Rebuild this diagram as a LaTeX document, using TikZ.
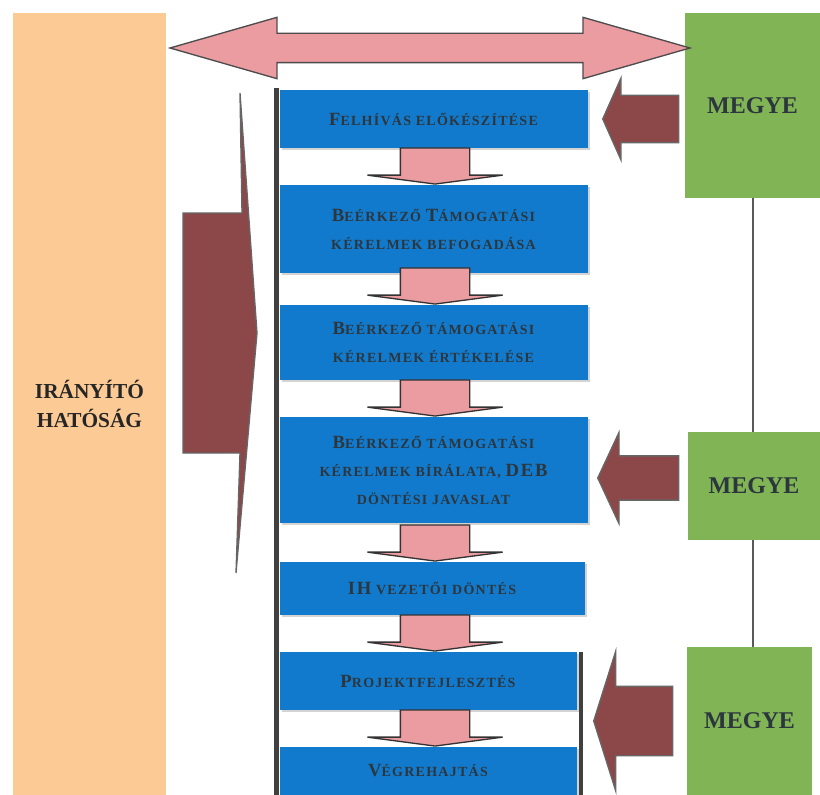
\documentclass[tikz,border=0pt]{standalone}
\usepackage{fontspec}
\setmainfont{Liberation Serif}
\usetikzlibrary{shapes.arrows}
\usetikzlibrary{shadows}

\definecolor{boxblue}{RGB}{18,122,204}
\definecolor{arrowpink}{RGB}{234,156,160}
\definecolor{arrowbrown}{RGB}{140,72,72}
\definecolor{ihorange}{RGB}{252,202,148}
\definecolor{megyegreen}{RGB}{128,180,84}
\definecolor{inkslate}{RGB}{44,54,62}

\newcommand{\bigc}[1]{{\fontsize{14}{14}\selectfont #1}}

\tikzset{
  stepbox/.style={fill=boxblue, minimum width=231pt, inner sep=0pt, align=center, text=inkslate,
    font=\fontsize{10.5}{21}\selectfont\bfseries\addfontfeature{LetterSpace=9},
    drop shadow={shadow xshift=1.5pt, shadow yshift=-1.5pt, opacity=0.35}},
  megyebox/.style={fill=megyegreen, text=inkslate, inner sep=0pt, font=\fontsize{18}{18}\selectfont\bfseries},
  ihbar/.style={fill=ihorange, inner sep=0pt, align=center, text=black!85, font=\fontsize{16}{22}\selectfont\bfseries},
  pinkdown/.style={single arrow, shape border rotate=270, fill=arrowpink, draw=black!80, line width=1pt,
    inner xsep=25.5pt, inner ysep=0pt, single arrow head extend=24.75pt, single arrow tip angle=165, minimum height=27pt},
  brownleft/.style={single arrow, shape border rotate=180, fill=arrowbrown, draw=black!60, line width=1pt, inner xsep=0pt},
  spine/.style={draw=black!75, line width=3.75pt},
  megyelink/.style={draw=black!65, line width=1.5pt}
}

\begin{document}
\begin{tikzpicture}[x=0.75pt,y=0.75pt,yscale=-1,xscale=1]
\useasboundingbox (0,0) rectangle (820,795);

%Shape: Rectangle (IH)
\node[ihbar, minimum width=114.75pt, minimum height=586.5pt] (ih) at (89.5,404) {IRÁNYÍTÓ\\HATÓSÁG};

%Shape: Rectangle (MEGYE)
\node[megyebox, minimum width=101.25pt, minimum height=138.75pt] (g1) at (752.5,105.5) {MEGYE};
\node[megyebox, minimum width=99pt, minimum height=81pt] (g2) at (754,486) {MEGYE};
\node[megyebox, minimum width=93.75pt, minimum height=111pt] (g3) at (749.5,721) {MEGYE};
\draw[megyelink] (g1.south) -- (g1.south |- g2.north);
\draw[megyelink] (g2.south -| g1.south) -- (g3.north -| g1.south);

%Shape: Double Arrow
\node[double arrow, fill=arrowpink, draw=black!70, line width=1pt, inner xsep=0pt, inner ysep=10.5pt, minimum height=390pt,
  double arrow head extend=12pt, double arrow tip angle=32] (dbl) at (430,48) {};

%Spine
\coordinate (spinetop) at (276,88);
\coordinate (spinebot) at (276,797);
\draw[spine] (spinetop) -- (spinebot);

%Steps
\node[stepbox, minimum height=43.5pt] (b1) at (433.5,119) {\bigc{F}ELHÍVÁS ELŐKÉSZÍTÉSE};
\node[stepbox, minimum height=66pt] (b2) at (433.5,229) {\bigc{B}EÉRKEZŐ \bigc{T}ÁMOGATÁSI\\KÉRELMEK BEFOGADÁSA};
\node[stepbox, minimum height=56.25pt] (b3) at (433.5,342.5) {\bigc{B}EÉRKEZŐ TÁMOGATÁSI\\KÉRELMEK ÉRTÉKELÉSE};
\node[stepbox, minimum height=79.5pt] (b4) at (433.5,470) {\bigc{B}EÉRKEZŐ TÁMOGATÁSI\\KÉRELMEK BÍRÁLATA, \bigc{DEB}\\DÖNTÉSI JAVASLAT};
\node[stepbox, minimum width=228.75pt, minimum height=39.75pt] (b5) at (432,588.5) {\bigc{IH} VEZETŐI DÖNTÉS};
\node[stepbox, minimum width=222.75pt, minimum height=43.5pt] (b6) at (428,681) {\bigc{P}ROJEKTFEJLESZTÉS};
\node[stepbox, minimum width=222.75pt, minimum height=36pt] (b7) at (428,771) {\bigc{V}ÉGREHAJTÁS};

\coordinate (rspinetop) at (581,652);
\coordinate (rspinebot) at (581,797);
\draw[spine, line width=3pt] (rspinetop) -- (rspinebot);

%Down arrows
\node[pinkdown, anchor=tip] (a1) at (b2.north -| 435,0) {};
\node[pinkdown, anchor=tip] (a2) at (b3.north -| 435,0) {};
\node[pinkdown, anchor=tip] (a3) at (b4.north -| 435,0) {};
\node[pinkdown, anchor=tip] (a4) at (b5.north -| 435,0) {};
\node[pinkdown, anchor=tip] (a5) at (b6.north -| 435,0) {};
\node[pinkdown, anchor=tip] (a6) at (b7.north -| 435,0) {};

%Left arrows
\node[brownleft, anchor=tip, minimum height=57pt, inner ysep=17.25pt, single arrow head extend=12.75pt,
  single arrow tip angle=132] (m1) at (602,119) {};
\node[brownleft, anchor=tip, minimum height=60.75pt, inner ysep=16.1pt, single arrow head extend=17.6pt,
  single arrow tip angle=130] (m2) at (597,478) {};
\node[brownleft, anchor=tip, minimum height=59.25pt, inner ysep=25.5pt, single arrow head extend=26.25pt,
  single arrow tip angle=145] (m3) at (593,721) {};

%Shape: Chevron
\draw[fill=arrowbrown, draw=black!60, line width=1pt] (240,93) -- (257,333) -- (236,573) -- (240,453) -- (183,453) -- (183,213) -- (242,213) -- cycle;

\end{tikzpicture}
\end{document}
